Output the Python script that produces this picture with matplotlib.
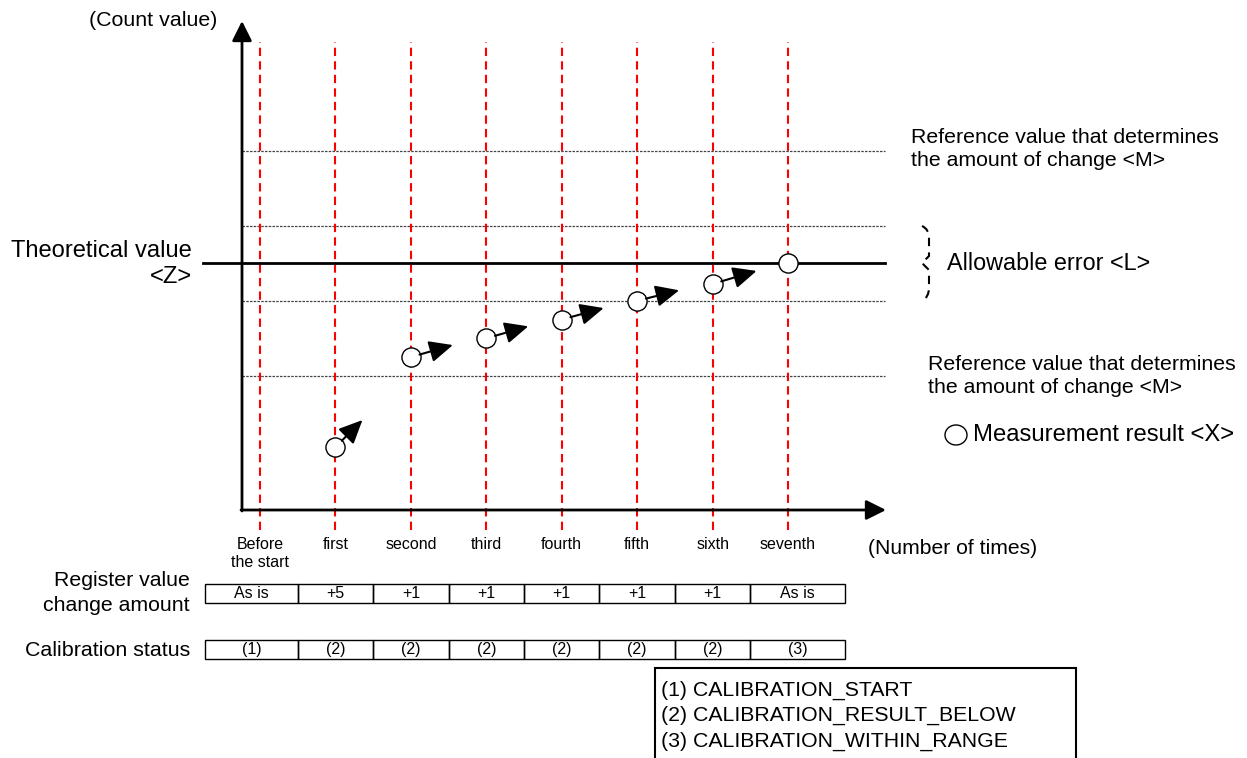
import matplotlib.pyplot as plt
from matplotlib.patches import Rectangle, Ellipse, PathPatch
from matplotlib.path import Path

plt.rcParams['font.family'] = ['Liberation Sans', 'DejaVu Sans']

# data
times = ['Before\nthe start', 'first', 'second', 'third', 'fourth', 'fifth', 'sixth', 'seventh']
count_value = [None, 51, 75, 80, 85, 90, 94.5, 100]   # measurement result <X>
theoretical_z = 100
allowable_l = 10
reference_m = 30
register_change = ['As is', '+5', '+1', '+1', '+1', '+1', '+1', 'As is']
calib_status = ['(1)', '(2)', '(2)', '(2)', '(2)', '(2)', '(2)', '(3)']
status_names = ['(1) CALIBRATION_START', '(2) CALIBRATION_RESULT_BELOW',
                '(3) CALIBRATION_WITHIN_RANGE']

W, H = 1247, 758
fig = plt.figure(figsize=(W / 100, H / 100), dpi=100)
ax = fig.add_axes([0, 0, 1, 1])
ax.axis('off')

# layout: pixel position of the first category / theoretical value and scale
X0, DX = 260, 75.43
Y0, DY = 263.3, 3.75
def dx(px):
    return (px - X0) / DX
def dy(py):
    return theoretical_z + (Y0 - py) / DY
ax.set_xlim(dx(0), dx(W))
ax.set_ylim(dy(H), dy(0))

def label(px, py, s, **kw):
    ax.text(dx(px), dy(py), s, **kw)

# axes with arrows
axis_arrow = dict(arrowstyle='-|>,head_length=1.0,head_width=0.5', color='black',
                  lw=2, mutation_scale=12, shrinkA=0, shrinkB=0)
ax.annotate('', xy=(dx(242), dy(21)), xytext=(dx(242), dy(511)), arrowprops=axis_arrow)
ax.annotate('', xy=(dx(886), dy(510)), xytext=(dx(241), dy(510)), arrowprops=axis_arrow)

# theoretical value and reference lines
ax.plot([dx(203), dx(885)], [theoretical_z] * 2, color='black', lw=2, zorder=3)
for lvl in [theoretical_z + reference_m, theoretical_z + allowable_l,
            theoretical_z - allowable_l, theoretical_z - reference_m]:
    ax.plot([dx(242), dx(885)], [lvl] * 2, color='#444444', lw=0.9,
            linestyle=(0, (2, 1)), zorder=2)

# red dashed lines per measurement
ax.vlines(range(len(times)), dy(530), dy(42), colors='red', lw=1.5,
          linestyles=(0, (4, 2.5)), zorder=2)

# measurement points
xs = [i for i, v in enumerate(count_value) if v is not None]
ys = [v for v in count_value if v is not None]
ax.scatter(xs, ys, s=190, facecolor='white', edgecolor='black', lw=1, zorder=5)

# arrows pointing to the next measurement (pixel offsets of the tip)
arrow_tips = [(27, -27), (42, -12), (42, -12), (42, -11.5), (42, -10.5), (44, -13)]
for (x, y), (ox, oy) in zip(zip(xs[:-1], ys[:-1]), arrow_tips):
    px, py = ax.transData.transform((x, y))
    ax.annotate('', xy=(px + ox, py - oy), xycoords='figure pixels',
                xytext=(x, y), textcoords='data',
                arrowprops=dict(arrowstyle='-|>,head_length=1.2,head_width=0.55',
                                color='black', lw=1.5, mutation_scale=12,
                                shrinkA=6.5, shrinkB=0), zorder=6)

# category labels
for i, t in enumerate(times):
    ax.text(i, dy(537), t, ha='center', va='top', fontsize=11.5, linespacing=1.25)

# tables
edges = [dx(205)] + [i + 0.5 for i in range(len(times) - 1)] + [dx(845)]
for row, (top, bot) in zip([register_change, calib_status], [(584, 603), (640, 659)]):
    for i, s in enumerate(row):
        ax.add_patch(Rectangle((edges[i], dy(bot)), edges[i + 1] - edges[i],
                               dy(top) - dy(bot), fill=False, edgecolor='black', lw=1))
        ax.text((edges[i] + edges[i + 1]) / 2, dy((top + bot) / 2), s,
                ha='center', va='center', fontsize=11.5)

label(190, 593, 'Register value\nchange amount', ha='right', va='center',
      fontsize=15.3, linespacing=1.4, multialignment='right')
label(190, 650, 'Calibration status', ha='right', va='center', fontsize=15.4)

# status legend box
ax.add_patch(Rectangle((dx(655), dy(780)), dx(1076) - dx(655), dy(668) - dy(780),
                       fill=False, edgecolor='black', lw=1.5))
for k, s in enumerate(status_names):
    label(661, 690 + 25.5 * k, s, ha='left', va='center', fontsize=15.3)

# axis titles and annotations
label(153, 20, '(Count value)', ha='center', va='center', fontsize=15.4)
label(868, 549, '(Number of times)', ha='left', va='center', fontsize=15.2)
label(192, 264, 'Theoretical value\n<Z>', ha='right', va='center', fontsize=17.1,
      linespacing=1.25, multialignment='right')
label(911, 149, 'Reference value that determines\nthe amount of change <M>',
      ha='left', va='center', fontsize=15.3, linespacing=1.3)
label(928, 376, 'Reference value that determines\nthe amount of change <M>',
      ha='left', va='center', fontsize=15.3, linespacing=1.3)
label(947, 263, 'Allowable error <L>', ha='left', va='center', fontsize=16.8)
label(973, 435, 'Measurement result <X>', ha='left', va='center', fontsize=17.2)
ax.add_patch(Ellipse((dx(956), dy(435)), 22 / DX, 20 / DY, facecolor='white',
                     edgecolor='black', lw=1))

# dashed brace for the allowable error
brace = [(922, 226), (929, 229), (929, 238), (929, 256), (922, 263), (929, 270),
         (929, 288), (929, 297), (922, 301)]
codes = [Path.MOVETO, Path.CURVE3, Path.CURVE3, Path.LINETO, Path.LINETO,
         Path.LINETO, Path.LINETO, Path.CURVE3, Path.CURVE3]
ax.add_patch(PathPatch(Path([(dx(a), dy(b)) for a, b in brace], codes),
                       fill=False, edgecolor='black', lw=1.5, linestyle=(0, (4, 3))))

fig.savefig('out.png', dpi=100)
